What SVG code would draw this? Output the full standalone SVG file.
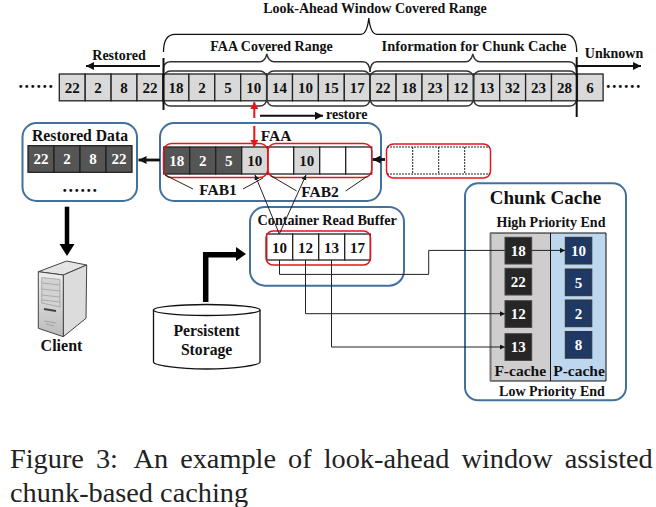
<svg xmlns="http://www.w3.org/2000/svg" width="656" height="507" viewBox="0 0 656 507">
<style>
text{font-family:"Liberation Serif","Times New Roman",serif;font-weight:bold;fill:#111;text-anchor:middle}
.n{font-size:15px}
.w{fill:#fff}
.l{font-size:14px}
.dots{font-size:18px;letter-spacing:1.5px}
.cap{font-weight:normal;font-size:28.3px;text-anchor:start;fill:#222}
.c{fill:#d9d9d9;stroke:#222;stroke-width:1.3}
.d{fill:#555;stroke:#222;stroke-width:1.3}
.e{fill:#fff;stroke:#222;stroke-width:1.3}
.box{fill:#fff;stroke:#41719c;stroke-width:2}
.red{fill:none;stroke:#e8141c;stroke-width:1.5}
.br{fill:none;stroke:#333;stroke-width:1.4}
.k{fill:none;stroke:#111;stroke-width:1.8}
.t{fill:none;stroke:#222;stroke-width:1}
.fs{fill:#262626;stroke:#444;stroke-width:1}
.ps{fill:#1f3864;stroke:#333;stroke-width:1}
</style>
<defs>
<marker id="ah" markerUnits="userSpaceOnUse" markerWidth="10" markerHeight="8" refX="8" refY="4" orient="auto"><path d="M0 0L8 4L0 8z" fill="#111"/></marker>
<marker id="as" markerUnits="userSpaceOnUse" markerWidth="6" markerHeight="6" refX="5" refY="2.5" orient="auto"><path d="M0 0L5 2.5L0 5z" fill="#111"/></marker>
<marker id="ar" markerUnits="userSpaceOnUse" markerWidth="8" markerHeight="8" refX="7" refY="4" orient="auto"><path d="M0 0L7 4L0 8z" fill="#e8141c"/></marker>
<linearGradient id="sv" x1="0" y1="0" x2="0" y2="1"><stop offset="0" stop-color="#eee"/><stop offset="1" stop-color="#bbb"/></linearGradient>
</defs>

<text x="375" y="13" class="l">Look-Ahead Window Covered Range</text>
<text x="271.5" y="51" class="l">FAA Covered Range</text>
<text x="474" y="51" class="l" style="font-size:14.4px">Information for Chunk Cache</text>
<text x="119" y="60" class="l">Restored</text>
<text x="614" y="58" class="l">Unknown</text>
<text x="36.5" y="88" class="dots">......</text>
<text x="624" y="88" class="dots">......</text>

<g id="sequence">
<rect class="c" x="59.3" y="74" width="25.9" height="26.8"/><rect class="c" x="85.2" y="74" width="25.9" height="26.8"/><rect class="c" x="111.1" y="74" width="25.9" height="26.8"/><rect class="c" x="137" y="74" width="25.9" height="26.8"/>
<rect class="c" x="163" y="74" width="25.9" height="26.8"/><rect class="c" x="188.9" y="74" width="25.9" height="26.8"/><rect class="c" x="214.8" y="74" width="25.9" height="26.8"/><rect class="c" x="240.7" y="74" width="25.9" height="26.8"/>
<rect class="c" x="266.6" y="74" width="25.9" height="26.8"/><rect class="c" x="292.5" y="74" width="25.9" height="26.8"/><rect class="c" x="318.4" y="74" width="25.9" height="26.8"/><rect class="c" x="344.3" y="74" width="25.9" height="26.8"/>
<rect class="c" x="370.2" y="74" width="25.9" height="26.8"/><rect class="c" x="396.1" y="74" width="25.9" height="26.8"/><rect class="c" x="422" y="74" width="25.9" height="26.8"/><rect class="c" x="447.9" y="74" width="25.9" height="26.8"/>
<rect class="c" x="473.8" y="74" width="25.9" height="26.8"/><rect class="c" x="499.7" y="74" width="25.9" height="26.8"/><rect class="c" x="525.6" y="74" width="25.9" height="26.8"/><rect class="c" x="551.5" y="74" width="25.9" height="26.8"/>
<rect class="c" x="577.4" y="74" width="25.7" height="26.8"/>
<text class="n" x="72.2" y="93">22</text><text class="n" x="98.1" y="93">2</text><text class="n" x="124" y="93">8</text><text class="n" x="150" y="93">22</text>
<text class="n" x="176" y="93">18</text><text class="n" x="202" y="93">2</text><text class="n" x="228" y="93">5</text><text class="n" x="253.7" y="93">10</text>
<text class="n" x="279.5" y="93">14</text><text class="n" x="305.5" y="93">10</text><text class="n" x="331.3" y="93">15</text><text class="n" x="357.2" y="93">17</text>
<text class="n" x="383" y="93">22</text><text class="n" x="409" y="93">18</text><text class="n" x="435" y="93">23</text><text class="n" x="460.8" y="93">12</text>
<text class="n" x="486.7" y="93">13</text><text class="n" x="512.6" y="93">32</text><text class="n" x="538.5" y="93">23</text><text class="n" x="564.4" y="93">28</text>
<text class="n" x="590" y="93">6</text>
</g>

<g id="braces">
<rect class="br" x="163.5" y="71" width="103.3" height="35" rx="7"/>
<rect class="br" x="266.8" y="71" width="103.3" height="35" rx="7"/>
<rect class="br" x="370.1" y="71" width="103.3" height="35" rx="7"/>
<rect class="br" x="473.4" y="71" width="103.3" height="35" rx="7"/>
<path class="br" d="M163.5 72V68Q164 61.7 171 61.7H260Q265 61.7 266.8 54Q268.6 61.7 274 61.7H363Q369.5 61.7 370 72"/>
<path class="br" d="M370 72Q370.5 61.7 377 61.7H466Q471 61.7 472.8 54Q474.6 61.7 480 61.7H569Q576 61.7 576.7 72"/>
<path class="k" style="stroke-width:1.3" d="M163.5 52Q163.5 34.3 175 34.3H361Q367 34.3 368.8 18Q370.6 34.3 377 34.3H565Q576.7 34.3 576.7 52"/>
<path class="k" style="stroke-width:2" d="M163.5 58V110M576.7 57V117"/>
</g>

<g id="top-arrows">
<path class="k" style="stroke-width:2" marker-end="url(#ah)" d="M160 66H86"/>
<path class="k" style="stroke-width:2" marker-end="url(#ah)" d="M577 66H641"/>
<path class="k" style="stroke-width:2" marker-end="url(#ah)" d="M260 115.7H323"/>
</g>
<text x="326" y="119" class="n" style="font-size:14px;text-anchor:start">restore</text>

<g id="restored-data">
<rect class="box" x="22.5" y="123" width="114.5" height="78" rx="14"/>
<text x="80" y="140.5" style="font-size:15.7px">Restored Data</text>
<rect class="d" x="28" y="145.7" width="26" height="26.6"/><rect class="d" x="54" y="145.7" width="26" height="26.6"/><rect class="d" x="80" y="145.7" width="26" height="26.6"/><rect class="d" x="106" y="145.7" width="26" height="26.6"/>
<text class="n w" x="41" y="164">22</text><text class="n w" x="67" y="164">2</text><text class="n w" x="93" y="164">8</text><text class="n w" x="119" y="164">22</text>
<text x="80.5" y="192" class="dots">......</text>
</g>

<g id="faa">
<rect class="box" x="160" y="123" width="221" height="78" rx="14"/>
<text x="260.7" y="140.5" style="font-size:15.5px;text-anchor:start">FAA</text>
<rect class="d" x="163.7" y="147" width="26" height="27"/><rect class="d" x="189.7" y="147" width="26" height="27"/><rect class="d" x="215.7" y="147" width="26" height="27"/><rect class="c" x="241.7" y="147" width="26" height="27"/>
<rect class="e" x="267.7" y="147" width="26" height="27"/><rect class="c" x="293.7" y="147" width="26" height="27"/><rect class="e" x="319.7" y="147" width="26" height="27"/><rect class="e" x="345.7" y="147" width="26" height="27"/>
<text class="n w" x="176.7" y="166">18</text><text class="n w" x="202.7" y="166">2</text><text class="n w" x="228.7" y="166">5</text><text class="n" x="254.7" y="166">10</text><text class="n" x="306.7" y="166">10</text>
<rect class="red" x="163.5" y="143.5" width="104.3" height="34" rx="8"/>
<rect class="red" x="267.8" y="143.5" width="104" height="34" rx="8"/>
<path class="t" d="M165 175L193 189M243 189L263 178M270.7 175.7L296.7 191M345.7 191L366.7 176.7"/>
<text x="218" y="195" style="font-size:15.5px">FAB1</text>
<text x="320" y="197" style="font-size:15.5px">FAB2</text>
</g>

<g id="next-chunk">
<rect class="red" x="386.5" y="144" width="104" height="34" rx="7"/>
<path fill="none" stroke="#222" stroke-width="1" stroke-dasharray="2 1" d="M387 147H490M387 174H490M412.7 147V174M438.7 147V174M464.7 147V174"/>
</g>

<g id="container-read-buffer">
<rect class="box" x="250" y="207" width="154" height="78.7" rx="15"/>
<text x="327.2" y="225" style="font-size:14.2px">Container Read Buffer</text>
<rect class="e" x="266.7" y="234" width="26" height="26"/><rect class="e" x="292.7" y="234" width="26" height="26"/><rect class="e" x="318.7" y="234" width="26" height="26"/><rect class="e" x="344.7" y="234" width="25.6" height="26"/>
<text class="n" x="279.5" y="252.5">10</text><text class="n" x="305.5" y="252.5">12</text><text class="n" x="331.5" y="252.5">13</text><text class="n" x="357.5" y="252.5">17</text>
<rect class="red" x="266" y="231" width="104.5" height="34" rx="7"/>
</g>

<g id="chunk-cache">
<rect class="box" x="465" y="183.3" width="161" height="217" rx="13"/>
<text x="545.5" y="204" style="font-size:19px">Chunk Cache</text>
<text x="551" y="226.7" style="font-size:14px">High Priority End</text>
<rect x="490" y="233" width="60.5" height="148" fill="#cfcdcd"/>
<rect x="550.5" y="233" width="55.5" height="148" fill="#bdd7ee"/>
<path fill="none" stroke="#111" stroke-width="1" d="M490 233H606V381H490M550.5 233V381"/>
<path fill="none" stroke="#777" stroke-width="2" d="M490.5 233V381"/>
<text x="520.2" y="376" style="font-size:15.5px">F-cache</text>
<text x="579" y="376" style="font-size:15.5px">P-cache</text>
<text x="552" y="395.7" style="font-size:14px">Low Priority End</text>
</g>

<g id="data-links">
<path class="k" style="stroke-width:2.8" marker-end="url(#ah)" d="M160 160H138.5"/>
<path class="k" style="stroke-width:2.8" marker-end="url(#ah)" d="M385 159.5H372.7"/>
<path class="t" marker-end="url(#as)" d="M279.3 234L255 175"/>
<path class="t" marker-end="url(#as)" d="M279.3 234L306 175"/>
<path class="t" marker-end="url(#as)" d="M279.5 260V274.4H428.7V250.4H565"/>
<path class="t" marker-end="url(#as)" d="M305.5 260V313.7H505"/>
<path class="t" marker-end="url(#as)" d="M331.5 260V347H505"/>
<path fill="none" stroke="#000" stroke-width="4.5" d="M67 206.7V245"/>
<path d="M59.5 244H74.5L67 256z" fill="#000"/>
<path fill="none" stroke="#000" stroke-width="5.5" d="M205.7 302V254.7H236"/>
<path d="M236 247L246 254L236 261z" fill="#000"/>
<path fill="none" stroke="#e8141c" stroke-width="2" marker-end="url(#ar)" d="M254.3 118V102"/>
<path fill="none" stroke="#e8141c" stroke-width="2" marker-end="url(#ar)" d="M254.3 126V147"/>
</g>

<g id="chunk-entries">
<rect class="fs" x="505" y="237.3" width="26.7" height="26.7"/><rect class="fs" x="505" y="268.3" width="26.7" height="26.7"/><rect class="fs" x="505" y="300.7" width="26.7" height="26.7"/><rect class="fs" x="505" y="333.7" width="26.7" height="26.7"/>
<rect class="ps" x="565.3" y="237.3" width="26.5" height="26.7"/><rect class="ps" x="565.3" y="269" width="26.5" height="26.7"/><rect class="ps" x="565.3" y="300" width="26.5" height="26.7"/><rect class="ps" x="565.3" y="331.5" width="26.5" height="26.7"/>
<text class="n w" x="518.3" y="256">18</text><text class="n w" x="518.3" y="287">22</text><text class="n w" x="518.3" y="319">12</text><text class="n w" x="518.3" y="352">13</text>
<text class="n w" x="578.5" y="256">10</text><text class="n w" x="578.5" y="288">5</text><text class="n w" x="578.5" y="319">2</text><text class="n w" x="578.5" y="350">8</text>
</g>

<g id="client">
<path d="M38.3 271.7L66.7 261L86.7 265L63.3 275z" fill="#e4e4e4" stroke="#444" stroke-width="1"/>
<path d="M63.3 275L86.7 265L86 318.3L63.3 336.7z" fill="#dcdcdc" stroke="#444" stroke-width="1"/>
<path d="M38.3 271.7L63.3 275V336.7L38.3 328.3z" fill="url(#sv)" stroke="#444" stroke-width="1"/>
<path d="M41.7 277.5L60 279.5V307L41.7 303z" fill="#d2d2d2" stroke="#999" stroke-width="0.7"/>
<path d="M42 283L60 285M42 289L60 291M42 295L60 297M42 300L60 302" fill="none" stroke="#999" stroke-width="0.7"/>
<path d="M44 309L56 311" fill="none" stroke="#444" stroke-width="2"/>
<path d="M44 321L56 323M46 324L54 326" fill="none" stroke="#999" stroke-width="0.8"/>
<text x="61.5" y="351" style="font-size:16px">Client</text>
</g>

<g id="persistent-storage">
<path d="M153.5 310V362C153.5 365 177 369 206.7 369S260 365 260 362V310" fill="#fff" stroke="#111" stroke-width="1.3"/>
<ellipse cx="206.7" cy="310" rx="53.3" ry="5.5" fill="#fff" stroke="#111" stroke-width="1.3"/>
<text x="206.6" y="336" style="font-size:15.7px">Persistent</text>
<text x="206.6" y="355" style="font-size:15.7px">Storage</text>
</g>

<text class="cap" x="10" y="468" style="word-spacing:5px">Figure 3: <tspan dx="5">An example of look-ahead window assisted</tspan></text>
<text class="cap" x="10" y="502">chunk-based caching</text>
</svg>
